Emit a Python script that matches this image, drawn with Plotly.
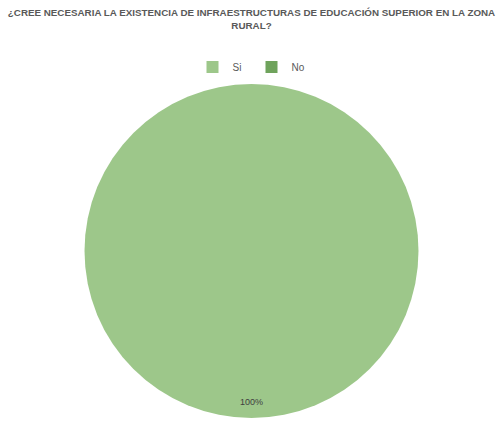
import plotly.graph_objects as go

labels = ["Si", "No"]
values = [100, 0]
colors = ["#9DC78A", "#6FA35C"]
title_text = "<b>¿CREE NECESARIA LA EXISTENCIA DE INFRAESTRUCTURAS DE EDUCACIÓN SUPERIOR EN LA ZONA<br>RURAL?</b>"

total = sum(values)
pct = [f"{round(v / total * 100)}%" for v in values]

FONT = "Liberation Sans, Arial, sans-serif"

fig = go.Figure()
fig.add_trace(go.Pie(
    labels=labels,
    values=values,
    marker=dict(colors=colors, line=dict(color="white", width=0)),
    textinfo="none",
    sort=False,
    direction="clockwise",
    hoverinfo="label+percent",
    showlegend=True,
))

fig.add_annotation(
    x=0.5, y=0.027, xref="paper", yref="paper",
    text=pct[0], showarrow=False,
    font=dict(family=FONT, size=9, color="#404040"),
)

fig.update_layout(
    width=503, height=426,
    paper_bgcolor="white", plot_bgcolor="white",
    margin=dict(l=0, r=0, t=84, b=8),
    title=dict(
        text=title_text,
        x=0.5, xanchor="center", y=1 - 16 / 426, yanchor="top",
        font=dict(family=FONT, size=9.8, color="#595959"),
    ),
    legend=dict(
        orientation="h", x=0.5, xanchor="center", y=1.051, yanchor="middle",
        font=dict(family=FONT, size=10, color="#595959"),
        itemwidth=30, entrywidth=14,
    ),
)

fig.write_html("out.html", config={"displayModeBar": False},
               post_script="document.body.style.margin='0px';")
